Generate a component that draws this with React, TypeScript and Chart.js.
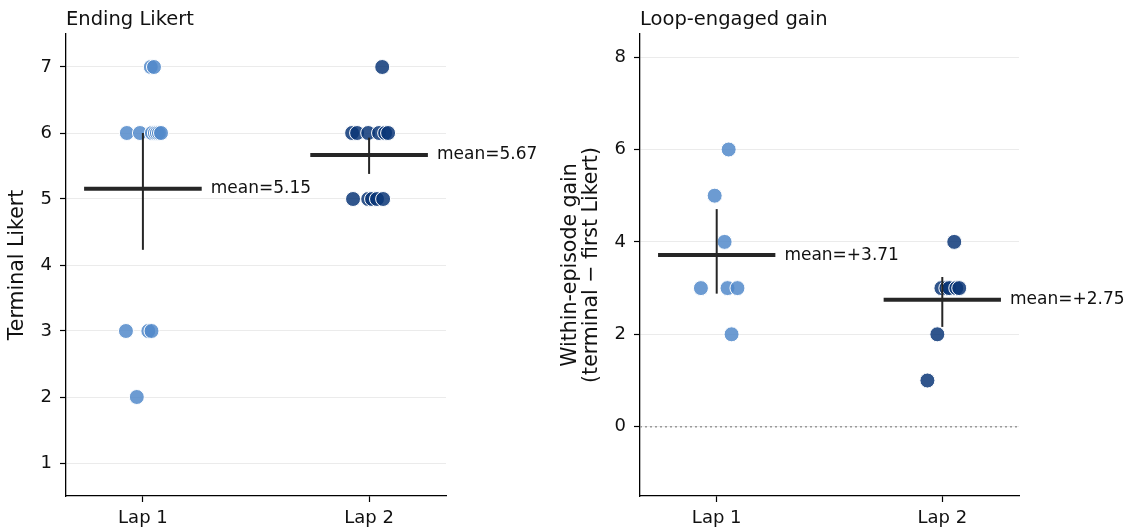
import React, { useEffect, useRef } from 'react';
import { Chart, registerables } from 'chart.js';
Chart.register(...registerables);

// ---------- data ----------
const categories = ['Lap 1', 'Lap 2'];

const likertLap1 = [7, 7, 6, 6, 6, 6, 6, 6, 6, 3, 3, 3, 2];
const likertLap1Jitter = [0.035, 0.049, -0.071, -0.013, 0.04, 0.053, 0.062, 0.071, 0.08, -0.075, 0.024, 0.038, -0.027];
const likertLap2 = [7, 6, 6, 6, 6, 6, 6, 5, 5, 5, 5, 5];
const likertLap2Jitter = [0.058, -0.075, -0.053, -0.004, 0.044, 0.071, 0.084, -0.071, -0.004, 0.013, 0.035, 0.062];
const likertCiLow = [4.23, 5.38];
const likertCiHigh = [6.0, 5.93];
const likertTicks = [1, 2, 3, 4, 5, 6, 7];

const gainLap1 = [6, 5, 4, 3, 3, 3, 2];
const gainLap1Jitter = [0.053, -0.009, 0.035, -0.07, 0.048, 0.092, 0.066];
const gainLap2 = [4, 3, 3, 3, 3, 3, 2, 1];
const gainLap2Jitter = [0.053, -0.004, 0.018, 0.031, 0.062, 0.075, -0.022, -0.066];
const gainCiLow = [2.88, 2.16];
const gainCiHigh = [4.71, 3.24];
const gainTicks = [0, 2, 4, 6, 8];

// ---------- style ----------
const FONT = '"DejaVu Sans", sans-serif';
const TEXT = '#111111';
const LAP_COLORS = ['rgba(82,138,202,0.85)', 'rgba(12,55,120,0.85)'];

const mean = (a: number[]) => a.reduce((s, v) => s + v, 0) / a.length;

type PanelSpec = {
  title: string;
  yTitle: string[];
  yTitleX: number[];
  series: number[][];
  jitter: number[][];
  ciLow: number[];
  ciHigh: number[];
  yMin: number;
  yMax: number;
  yTicks: number[];
  signed: boolean;
  zeroLine: boolean;
  axisWidth: number;
  padRight: number;
};

function buildChart(canvas: HTMLCanvasElement, p: PanelSpec) {
  const means = p.series.map(mean);
  const datasets: any[] = [];
  means.forEach((m, i) => {
    datasets.push({
      type: 'line',
      data: [{ x: i - 0.26, y: m }, { x: i + 0.26, y: m }],
      borderColor: '#262626',
      borderWidth: 4,
      pointRadius: 0,
      order: 0,
    });
    datasets.push({
      type: 'line',
      data: [{ x: i, y: p.ciLow[i] }, { x: i, y: p.ciHigh[i] }],
      borderColor: '#262626',
      borderWidth: 2,
      pointRadius: 0,
      order: 0,
    });
  });
  p.series.forEach((vals, i) => {
    datasets.push({
      type: 'scatter',
      data: vals.map((v, k) => ({ x: i + p.jitter[i][k], y: v })),
      backgroundColor: LAP_COLORS[i],
      borderColor: '#ffffff',
      borderWidth: 1,
      pointRadius: 7.5,
      order: 1,
    });
  });

  const decor = {
    id: 'decor',
    beforeDatasetsDraw(chart: any) {
      if (!p.zeroLine) return;
      const { ctx, chartArea, scales } = chart;
      const y = scales.y.getPixelForValue(0);
      ctx.save();
      ctx.strokeStyle = '#9a9a9a';
      ctx.lineWidth = 1.5;
      ctx.setLineDash([2, 3]);
      ctx.beginPath();
      ctx.moveTo(chartArea.left, y);
      ctx.lineTo(chartArea.right, y);
      ctx.stroke();
      ctx.restore();
    },
    afterDraw(chart: any) {
      const { ctx, chartArea, scales } = chart;
      ctx.save();
      ctx.fillStyle = TEXT;
      // title
      ctx.font = `19.5px ${FONT}`;
      ctx.textAlign = 'left';
      ctx.textBaseline = 'alphabetic';
      ctx.fillText(p.title, chartArea.left, 25);
      // mean labels
      ctx.font = `17px ${FONT}`;
      ctx.textBaseline = 'middle';
      means.forEach((m, i) => {
        const x = scales.x.getPixelForValue(i + 0.3);
        const y = scales.y.getPixelForValue(m);
        const txt = 'mean=' + (p.signed && m >= 0 ? '+' : '') + m.toFixed(2);
        ctx.fillText(txt, x, y);
      });
      // y title
      const cy = (chartArea.top + chartArea.bottom) / 2;
      ctx.font = `20.5px ${FONT}`;
      ctx.textAlign = 'center';
      p.yTitle.forEach((line, k) => {
        ctx.save();
        ctx.translate(p.yTitleX[k], cy);
        ctx.rotate(-Math.PI / 2);
        ctx.fillText(line, 0, 0);
        ctx.restore();
      });
      ctx.restore();
    },
  };

  return new Chart(canvas, {
    type: 'scatter',
    data: { datasets },
    options: {
      animation: false,
      responsive: false,
      events: [],
      layout: { padding: { top: 34, right: p.padRight, left: 0, bottom: 0 } },
      plugins: { legend: { display: false }, tooltip: { enabled: false }, title: { display: false } },
      scales: {
        x: {
          type: 'linear',
          min: -0.34,
          max: 1.34,
          afterBuildTicks: (s: any) => {
            s.ticks = categories.map((_, i) => ({ value: i }));
          },
          afterFit: (s: any) => {
            s.height = 35;
          },
          ticks: {
            callback: (v: any) => categories[Math.round(v)] ?? '',
            font: { family: FONT, size: 18 },
            color: TEXT,
            padding: 6,
            maxRotation: 0,
            autoSkip: false,
          },
          grid: { drawOnChartArea: false, tickColor: '#000', tickLength: 6, tickWidth: 1.2 },
          border: { color: '#000', width: 1.3 },
        },
        y: {
          type: 'linear',
          min: p.yMin,
          max: p.yMax,
          afterBuildTicks: (s: any) => {
            s.ticks = p.yTicks.map((v) => ({ value: v }));
          },
          afterFit: (s: any) => {
            s.width = p.axisWidth;
          },
          ticks: {
            font: { family: FONT, size: 18 },
            color: TEXT,
            padding: 8,
          },
          grid: { color: '#ebebeb', lineWidth: 1, tickColor: '#000', tickLength: 6, tickWidth: 1.2 },
          border: { color: '#000', width: 1.3 },
        },
      },
    },
    plugins: [decor],
  } as any);
}

function Panel({ spec, left, width }: { spec: PanelSpec; left: number; width: number }) {
  const ref = useRef<HTMLCanvasElement>(null);
  useEffect(() => {
    if (!ref.current) return;
    const chart = buildChart(ref.current, spec);
    return () => chart.destroy();
  }, []);
  return (
    <canvas
      ref={ref}
      width={width}
      height={531}
      style={{ position: 'absolute', left, top: 0, width, height: 531 }}
    />
  );
}

const leftSpec: PanelSpec = {
  title: 'Ending Likert',
  yTitle: ['Terminal Likert'],
  yTitleX: [18],
  series: [likertLap1, likertLap2],
  jitter: [likertLap1Jitter, likertLap2Jitter],
  ciLow: likertCiLow,
  ciHigh: likertCiHigh,
  yMin: 0.5,
  yMax: 7.5,
  yTicks: likertTicks,
  signed: false,
  zeroLine: false,
  axisWidth: 66,
  padRight: 568 - 446,
};

const rightSpec: PanelSpec = {
  title: 'Loop-engaged gain',
  yTitle: ['Within-episode gain', '(terminal \u2212 first Likert)'],
  yTitleX: [571 - 540, 592 - 540],
  series: [gainLap1, gainLap2],
  jitter: [gainLap1Jitter, gainLap2Jitter],
  ciLow: gainCiLow,
  ciHigh: gainCiHigh,
  yMin: -1.5,
  yMax: 8.5,
  yTicks: gainTicks,
  signed: true,
  zeroLine: true,
  axisWidth: 640 - 540,
  padRight: 597 - (1019 - 540),
};

export default function App() {
  return (
    <div style={{ position: 'fixed', left: 0, top: 0, width: 1137, height: 531, background: '#fff' }}>
      <Panel spec={leftSpec} left={0} width={568} />
      <Panel spec={rightSpec} left={540} width={597} />
    </div>
  );
}
